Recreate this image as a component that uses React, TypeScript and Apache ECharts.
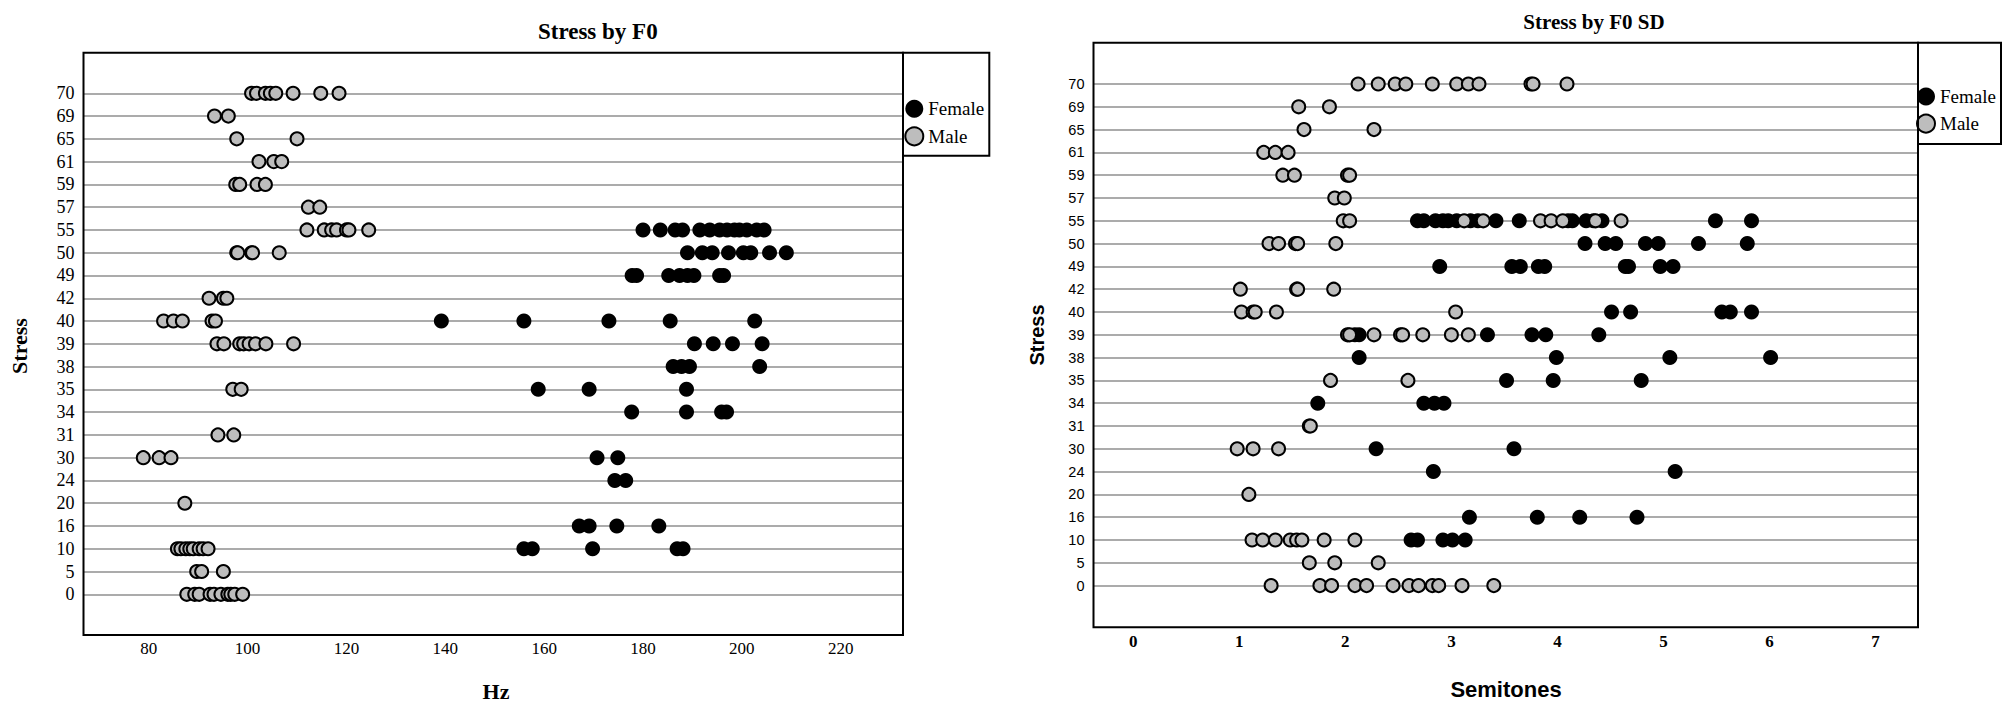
import React, { useEffect, useRef } from "react";
import * as echarts from "echarts";

// Stress categories (bottom to top)
const STRESS = ["0", "5", "10", "16", "20", "24", "30", "31", "34", "35", "38", "39", "40", "42", "49", "50", "55", "57", "59", "61", "65", "69", "70"];

const F0_TICKS = [80, 100, 120, 140, 160, 180, 200, 220];
const F0SD_TICKS = [0, 1, 2, 3, 4, 5, 6, 7];

// Values per stress row (index matches STRESS)
const F0_FEMALE: number[][] = [
  [], [], [155.9, 157.6, 169.8, 186.9, 188.1], [167.1, 169.1, 174.7, 183.2], [], [174.3, 176.5],
  [170.7, 174.9], [], [177.7, 188.8, 195.9, 196.9], [158.8, 169.1, 188.8], [186.1, 187.8, 189.4, 203.6],
  [190.4, 194.2, 198.1, 204.1], [139.2, 155.9, 173.1, 185.5, 202.6], [],
  [177.8, 178.7, 185.2, 187.4, 189.0, 190.3, 195.5, 196.3],
  [189.0, 192.0, 194.0, 197.3, 200.3, 201.8, 205.6, 209.0],
  [180.0, 183.5, 186.5, 188.0, 191.5, 193.5, 195.5, 197.0, 198.5, 199.5, 201.0, 203.0, 204.5],
  [], [], [], [], [], [],
];

const F0_MALE: number[][] = [
  [87.7, 89.3, 90.2, 92.4, 93.2, 94.6, 96.0, 96.6, 97.4, 99.0],
  [89.7, 90.7, 95.1],
  [85.8, 86.5, 87.5, 88.3, 89.0, 90.2, 91.0, 92.0],
  [],
  [87.3],
  [],
  [78.9, 82.1, 84.5],
  [94.0, 97.2],
  [],
  [97.0, 98.7],
  [],
  [93.8, 95.2, 98.4, 99.2, 100.3, 101.6, 103.7, 109.3],
  [83.0, 85.0, 86.8, 92.8, 93.5],
  [92.2, 95.1, 95.8],
  [],
  [97.8, 98.0, 100.8, 101.0, 106.4],
  [112.0, 115.5, 117.0, 118.0, 120.0, 120.5, 124.5],
  [112.3, 114.6],
  [97.6, 98.4, 101.9, 103.6],
  [102.3, 105.3, 106.9],
  [97.8, 110.0],
  [93.3, 96.1],
  [100.8, 101.8, 103.6, 104.6, 105.7, 109.2, 114.8, 118.5],
];

const F0SD_FEMALE: number[][] = [
  [], [], [2.62, 2.68, 2.92, 3.01, 3.13], [3.17, 3.81, 4.21, 4.75], [], [2.83, 5.11],
  [2.29, 3.59], [], [1.74, 2.74, 2.84, 2.93], [3.52, 3.96, 4.79], [2.13, 3.99, 5.06, 6.01],
  [2.09, 2.13, 3.34, 3.76, 3.89, 4.39], [4.51, 4.69, 5.55, 5.63, 5.83], [],
  [2.89, 3.57, 3.65, 3.82, 3.88, 4.64, 4.67, 4.97, 5.09],
  [4.26, 4.45, 4.55, 4.83, 4.95, 5.33, 5.79],
  [2.68, 2.74, 2.85, 2.92, 2.97, 3.05, 3.18, 3.25, 3.42, 3.64, 4.10, 4.14, 4.27, 4.34, 4.42, 5.49, 5.83],
  [], [], [], [], [], [],
];

const F0SD_MALE: number[][] = [
  [1.30, 1.76, 1.87, 2.09, 2.20, 2.45, 2.60, 2.69, 2.82, 2.88, 3.10, 3.40],
  [1.66, 1.90, 2.31],
  [1.12, 1.22, 1.34, 1.48, 1.54, 1.59, 1.80, 2.09],
  [],
  [1.09],
  [],
  [0.98, 1.13, 1.37],
  [1.66, 1.67],
  [],
  [1.86, 2.59],
  [],
  [2.02, 2.04, 2.27, 2.52, 2.54, 2.73, 3.00, 3.16],
  [1.02, 1.13, 1.15, 1.35, 3.04],
  [1.01, 1.54, 1.55, 1.89],
  [],
  [1.28, 1.37, 1.53, 1.55, 1.91],
  [1.98, 2.04, 3.12, 3.30, 3.84, 3.94, 4.05, 4.36, 4.60],
  [1.90, 1.99],
  [1.41, 1.52, 2.02, 2.04],
  [1.23, 1.34, 1.46],
  [1.61, 2.27],
  [1.56, 1.85],
  [2.12, 2.31, 2.47, 2.57, 2.82, 3.05, 3.16, 3.26, 3.75, 3.77, 4.09],
];

function toPoints(rows: number[][]) {
  const out: number[][] = [];
  rows.forEach((vals, i) => vals.forEach((v) => out.push([v, i])));
  return out;
}

const SERIF = "Liberation Serif";
const SANS = "Liberation Sans";
const MALE_FILL = "#bdbdbd";
const GRID_LINE = "#ababab";

export default function App() {
  const ref = useRef<HTMLDivElement>(null);

  useEffect(() => {
    if (!ref.current) return;
    const chart = echarts.init(ref.current, undefined, { renderer: "svg" });

    const femaleStyle = { color: "#000", opacity: 1 };
    const maleStyle = { color: MALE_FILL, borderColor: "#000", borderWidth: 2, opacity: 1 };

    const yAxisBase = (gridIndex: number, font: string, size: number) => ({
      gridIndex,
      type: "category",
      data: STRESS,
      boundaryGap: false,
      axisLine: { show: false },
      axisTick: { show: false },
      axisLabel: { interval: 0, margin: 9, fontFamily: font, fontSize: size, color: "#000" },
      splitLine: { show: true, interval: 0, lineStyle: { color: GRID_LINE, width: 2 } },
    });

    const option: any = {
      animation: false,
      backgroundColor: "#fff",
      grid: [
        { left: 83.5, top: 93.3, width: 819.5, height: 501, containLabel: false },
        { left: 1093.5, top: 84, width: 824.5, height: 501.6, containLabel: false },
      ],
      xAxis: [
        {
          gridIndex: 0,
          type: "value",
          min: 66.8,
          max: 232.6,
          splitNumber: 8,
          axisLine: { show: false },
          axisTick: { show: false },
          splitLine: { show: false },
          axisLabel: {
            margin: 45.5,
            customValues: F0_TICKS,
            fontFamily: SERIF,
            fontSize: 17,
            color: "#000",
            formatter: (v: number) => (F0_TICKS.indexOf(v) >= 0 ? String(v) : ""),
          },
        },
        {
          gridIndex: 1,
          type: "value",
          min: -0.375,
          max: 7.4,
          splitNumber: 8,
          axisLine: { show: false },
          axisTick: { show: false },
          splitLine: { show: false },
          axisLabel: {
            margin: 47.5,
            customValues: F0SD_TICKS,
            fontFamily: SERIF,
            fontWeight: "bold",
            fontSize: 17,
            color: "#000",
            formatter: (v: number) => (F0SD_TICKS.indexOf(v) >= 0 ? String(v) : ""),
          },
        },
      ],
      yAxis: [yAxisBase(0, SERIF, 18), yAxisBase(1, SANS, 14.5)],
      legend: [
        {
          data: ["Female", "Male"],
          orient: "vertical",
          left: 904.3,
          top: 99.3,
          itemWidth: 18,
          itemHeight: 18,
          itemGap: 8,
          padding: 0,
          icon: "circle",
          selectedMode: false,
          textStyle: { fontFamily: SERIF, fontSize: 19, color: "#000", lineHeight: 18 },
        },
        {
          data: ["Female", "Male"],
          orient: "vertical",
          left: 1916,
          top: 87,
          itemWidth: 18,
          itemHeight: 18,
          itemGap: 7.6,
          padding: 0,
          icon: "circle",
          selectedMode: false,
          textStyle: { fontFamily: SERIF, fontSize: 19, color: "#000", lineHeight: 18 },
        },
      ],
      series: [
        { name: "Female", type: "scatter", xAxisIndex: 0, yAxisIndex: 0, symbol: "circle", symbolSize: 15, itemStyle: femaleStyle, data: toPoints(F0_FEMALE), z: 3 },
        { name: "Male", type: "scatter", xAxisIndex: 0, yAxisIndex: 0, symbol: "circle", symbolSize: 13, itemStyle: maleStyle, data: toPoints(F0_MALE), z: 4 },
        { name: "Female", type: "scatter", xAxisIndex: 1, yAxisIndex: 1, symbol: "circle", symbolSize: 15, itemStyle: femaleStyle, data: toPoints(F0SD_FEMALE), z: 3 },
        { name: "Male", type: "scatter", xAxisIndex: 1, yAxisIndex: 1, symbol: "circle", symbolSize: 13, itemStyle: maleStyle, data: toPoints(F0SD_MALE), z: 4 },
      ],
      graphic: [
        { type: "rect", z: 10, silent: true, shape: { x: 83.5, y: 52.7, width: 819.5, height: 582.3 }, style: { fill: "none", stroke: "#000", lineWidth: 2 } },
        { type: "rect", z: 10, silent: true, shape: { x: 903, y: 52.7, width: 86.3, height: 103 }, style: { fill: "none", stroke: "#000", lineWidth: 2 } },
        { type: "rect", z: 10, silent: true, shape: { x: 1093.5, y: 42.7, width: 824.5, height: 584.6 }, style: { fill: "none", stroke: "#000", lineWidth: 2 } },
        { type: "rect", z: 10, silent: true, shape: { x: 1918, y: 42.7, width: 83, height: 101.3 }, style: { fill: "none", stroke: "#000", lineWidth: 2 } },
        { type: "text", z: 10, x: 597.8, y: 31.7, style: { text: "Stress by F0", align: "center", verticalAlign: "middle", fontFamily: SERIF, fontWeight: "bold", fontSize: 23, fill: "#000" } },
        { type: "text", z: 10, x: 1594, y: 21.5, style: { text: "Stress by F0 SD", align: "center", verticalAlign: "middle", fontFamily: SERIF, fontWeight: "bold", fontSize: 21, fill: "#000" } },
        { type: "text", z: 10, x: 496, y: 691.7, style: { text: "Hz", align: "center", verticalAlign: "middle", fontFamily: SERIF, fontWeight: "bold", fontSize: 22, fill: "#000" } },
        { type: "text", z: 10, x: 1506, y: 689, style: { text: "Semitones", align: "center", verticalAlign: "middle", fontFamily: SANS, fontWeight: "bold", fontSize: 22, fill: "#000" } },
        { type: "text", z: 10, x: 19, y: 346, rotation: Math.PI / 2, style: { text: "Stress", align: "center", verticalAlign: "middle", fontFamily: SERIF, fontWeight: "bold", fontSize: 22, fill: "#000" } },
        { type: "text", z: 10, x: 1037, y: 335, rotation: Math.PI / 2, style: { text: "Stress", align: "center", verticalAlign: "middle", fontFamily: SANS, fontWeight: "bold", fontSize: 20, fill: "#000" } },
      ],
    };

    chart.setOption(option);
    return () => chart.dispose();
  }, []);

  return <div ref={ref} style={{ position: "fixed", left: 0, top: 0, width: 2013, height: 713 }} />;
}
